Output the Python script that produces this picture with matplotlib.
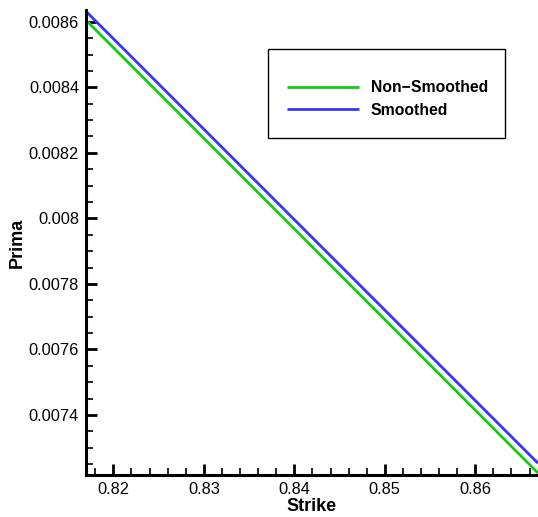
import matplotlib
matplotlib.use("Agg")
import matplotlib.pyplot as plt
from matplotlib.ticker import MultipleLocator
from matplotlib.patches import Rectangle

plt.rcParams['font.family'] = ['Liberation Sans', 'DejaVu Sans']

# strike range and option price at both ends
strike        = [0.81698, 0.86693]
prima_nonsm   = [0.008605, 0.007223]
prima_smooth  = [0.008632, 0.007253]

x_ticks = [0.82, 0.83, 0.84, 0.85, 0.86]
y_ticks = [0.0074, 0.0076, 0.0078, 0.008, 0.0082, 0.0084, 0.0086]
y_labels = ["0.0074", "0.0076", "0.0078", "0.008", "0.0082", "0.0084", "0.0086"]

fig = plt.figure(figsize=(5.38, 5.17), dpi=100)
ax = fig.add_axes([86 / 538, (517 - 475) / 517, 452 / 538, 465 / 517])

ax.plot(strike, prima_nonsm, color="#14cc14", lw=2.0, label="Non\u2212Smoothed", solid_capstyle="butt")
ax.plot(strike, prima_smooth, color="#3535ff", lw=2.0, label="Smoothed", solid_capstyle="butt")

ax.set_xlim(strike[0], strike[1])
ax.set_ylim(0.007217, 0.008636)

ax.set_xticks(x_ticks)
ax.set_xticklabels([f"{v:.2f}" for v in x_ticks])
ax.set_yticks(y_ticks)
ax.set_yticklabels(y_labels)
ax.xaxis.set_minor_locator(MultipleLocator(0.002))
ax.yaxis.set_minor_locator(MultipleLocator(0.00005))

for side in ["top", "right"]:
    ax.spines[side].set_visible(False)
for side in ["left", "bottom"]:
    ax.spines[side].set_linewidth(2.2)

ax.tick_params(axis='both', which='both', direction='in', top=False, right=False)
ax.tick_params(axis='both', which='major', labelsize=11.8, length=8, width=2.0, pad=5)
ax.tick_params(axis='both', which='minor', length=5, width=1.2)

ax.set_xlabel("Strike", fontsize=13, fontweight='bold', labelpad=1)
ax.set_ylabel("Prima", fontsize=13, fontweight='bold', labelpad=2)

# legend box
fig.patches.append(Rectangle((268 / 538, 1 - 138 / 517), 237 / 538, 89 / 517,
                             transform=fig.transFigure, fill=False, ec="black", lw=1.0))
fig.legend(loc='upper left', bbox_to_anchor=(287 / 538, 1 - 80 / 517), frameon=False,
           prop={'size': 11.3, 'weight': 'bold'}, handlelength=4.6, handletextpad=0.75,
           labelspacing=0.5, borderpad=0, borderaxespad=0)

fig.savefig("out.png", dpi=100)
